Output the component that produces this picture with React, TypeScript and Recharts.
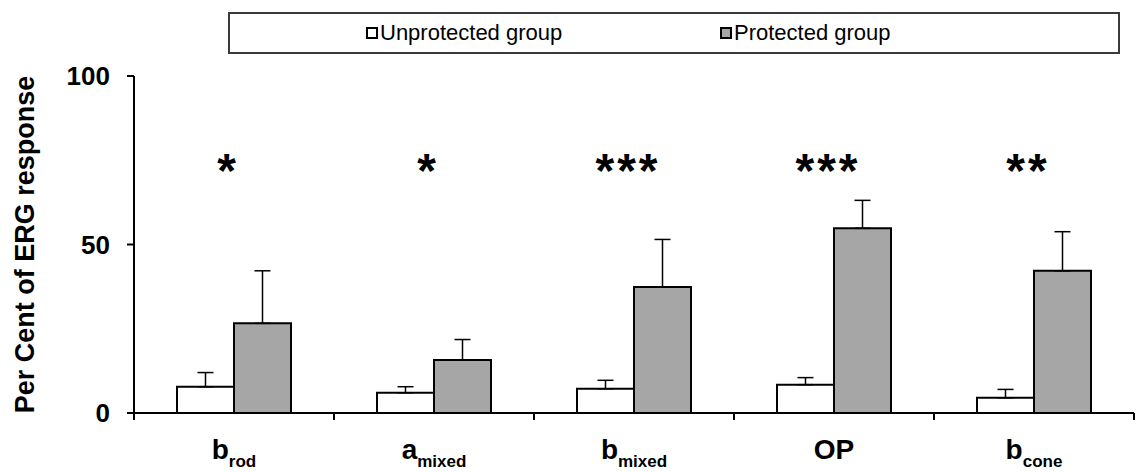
import {
  ComposedChart,
  Bar,
  Line,
  XAxis,
  YAxis,
  ErrorBar,
  Legend,
  LabelList,
} from "recharts";

const FONT = "'Liberation Sans', Arial, sans-serif";

// categories: base letter + subscript, split on "_"
const categories = ["b_rod", "a_mixed", "b_mixed", "OP", "b_cone"];
const unprotected = [7.8, 6.0, 7.2, 8.4, 4.5];
const unprotectedErr = [4.2, 1.8, 2.5, 2.1, 2.5];
const protectedVals = [26.6, 15.7, 37.4, 54.8, 42.2];
const protectedErr = [15.6, 6.1, 14.1, 8.3, 11.6];
const stars = ["*", "*", "***", "***", "**"];
const starLevel = [67, 67, 67, 67, 67];
const yTicks = [0, 50, 100];

const data = categories.map((cat, i) => ({
  cat,
  unprotected: unprotected[i],
  uErr: [0, unprotectedErr[i]],
  protected: protectedVals[i],
  pErr: [0, protectedErr[i]],
  stars: stars[i],
  sig: starLevel[i],
}));

function LegendBox() {
  const item = (fill: string, label: string) => (
    <div style={{ display: "flex", alignItems: "center", width: 354 }}>
      <span
        style={{
          display: "inline-block",
          width: 12,
          height: 12,
          boxSizing: "border-box",
          border: "2px solid #000",
          background: fill,
          marginRight: 2,
        }}
      />
      <span style={{ fontSize: 22, color: "#000", fontFamily: FONT }}>{label}</span>
    </div>
  );
  return (
    <div
      style={{
        display: "flex",
        alignItems: "center",
        height: 42,
        boxSizing: "border-box",
        border: "2px solid #3a3a3a",
        paddingLeft: 136,
      }}
    >
      {item("#fff", "Unprotected group")}
      {item("#a6a6a6", "Protected group")}
    </div>
  );
}

function YTitle(props: any) {
  const vb = props.viewBox || {};
  const cx = 25;
  const cy = vb.height ? vb.y + vb.height / 2 : 244.5;
  return (
    <text
      x={cx}
      y={cy}
      transform={`rotate(-90 ${cx} ${cy})`}
      textAnchor="middle"
      dominantBaseline="central"
      fontSize={27}
      fontWeight="bold"
      fontFamily={FONT}
      fill="#000"
    >
      Per Cent of ERG response
    </text>
  );
}

// category label with subscript, plus the tick marks on the band edges
function CatTick(props: any) {
  const { x, y, payload, index, visibleTicksCount, width } = props;
  const half =
    payload && payload.offset ? payload.offset : (width || 1000) / (visibleTicksCount || 5) / 2;
  const [main, sub] = String(payload.value).split("_");
  const last = index === (visibleTicksCount || 5) - 1;
  return (
    <g>
      <line x1={x - half} x2={x - half} y1={y} y2={y + 7} stroke="#000" strokeWidth={2} />
      {last && <line x1={x + half} x2={x + half} y1={y} y2={y + 7} stroke="#000" strokeWidth={2} />}
      <text x={x} y={y + 46} textAnchor="middle" fontFamily={FONT} fontWeight="bold" fill="#000">
        <tspan fontSize={28}>{main}</tspan>
        {sub && (
          <tspan fontSize={17} dy={8}>
            {sub}
          </tspan>
        )}
      </text>
    </g>
  );
}

function StarLabel({ x, y, value }: any) {
  return (
    <text
      x={x - 6}
      y={y}
      textAnchor="middle"
      fontSize={48}
      fontWeight="bold"
      letterSpacing={3}
      fontFamily={FONT}
      fill="#000"
    >
      {value}
    </text>
  );
}

export default function App() {
  return (
    <div
      style={{
        position: "absolute",
        left: 0,
        top: 0,
        width: 1137,
        height: 472,
        background: "#fff",
        overflow: "hidden",
      }}
    >
      <ComposedChart
        width={1137}
        height={472}
        data={data}
        margin={{ top: 76, right: 3, left: 0, bottom: 0 }}
        barGap={0}
      >
        <Legend
          verticalAlign="middle"
          align="center"
          layout="horizontal"
          content={() => <LegendBox />}
          wrapperStyle={{ top: 12, left: 228, width: 892, height: 42 }}
        />

        <XAxis
          dataKey="cat"
          height={59}
          axisLine={{ stroke: "#000", strokeWidth: 2 }}
          tickLine={false}
          tickSize={0}
          tickMargin={0}
          tick={<CatTick />}
          interval={0}
        />
        <YAxis
          width={134}
          domain={[0, 100]}
          ticks={yTicks}
          axisLine={{ stroke: "#000", strokeWidth: 2 }}
          tickLine={{ stroke: "#000", strokeWidth: 2 }}
          tickSize={7}
          tickMargin={17}
          tick={{ fontSize: 26, fontWeight: "bold", fill: "#000", fontFamily: FONT }}
          label={<YTitle />}
        />

        <Bar
          dataKey="unprotected"
          fill="#fff"
          stroke="#000"
          strokeWidth={2}
          barSize={57}
          isAnimationActive={false}
        >
          <ErrorBar dataKey="uErr" direction="y" width={8} stroke="#000" strokeWidth={1.5} />
        </Bar>
        <Bar
          dataKey="protected"
          fill="#a6a6a6"
          stroke="#000"
          strokeWidth={2}
          barSize={57}
          isAnimationActive={false}
        >
          <ErrorBar dataKey="pErr" direction="y" width={8} stroke="#000" strokeWidth={1.5} />
        </Bar>

        {/* significance stars */}
        <Line
          dataKey="sig"
          stroke="none"
          dot={false}
          activeDot={false}
          isAnimationActive={false}
        >
          <LabelList dataKey="stars" content={StarLabel} />
        </Line>
      </ComposedChart>
    </div>
  );
}
